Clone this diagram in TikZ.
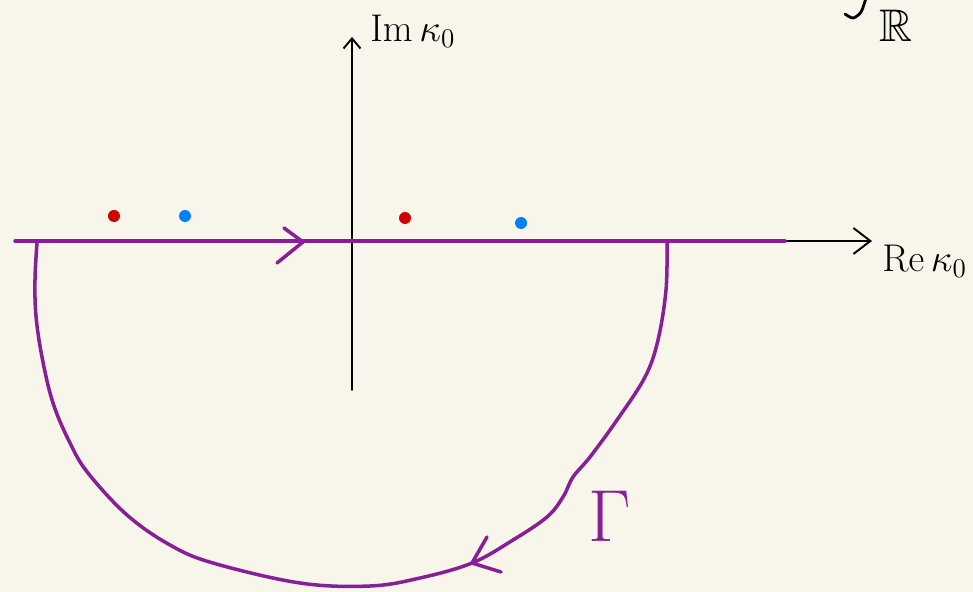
\RequirePackage{fix-cm}
\documentclass[tikz,border=0pt]{standalone}
\usepackage{amssymb}
\usetikzlibrary{arrows.meta}
\definecolor{paper}{RGB}{248,245,234}
\definecolor{contour}{RGB}{135,32,150}
\definecolor{polered}{RGB}{208,0,0}
\definecolor{poleblue}{RGB}{0,128,255}
\begin{document}
\begin{tikzpicture}[line cap=round, line join=round,
        axis/.style={black, line width=1.1pt},
        path line/.style={contour, line width=2pt},
        pole/.style={circle, inner sep=0pt, minimum size=2.4mm},
        axis label/.style={inner sep=0pt, anchor=base west, font=\fontsize{22}{22}\selectfont}]
        \path[use as bounding box, fill=paper] (-7.04,-7.02) rectangle (12.42,4.82);
        % axes
        \coordinate (re-start) at (-6.74,0);
        \coordinate (re-end) at (10.4,0);
        \coordinate (im-start) at (0,-2.98);
        \coordinate (im-end) at (0,4.08);
        \draw[axis, -{Straight Barb[length=3.4mm, width=5.2mm]}] (re-start) -- (re-end);
        \draw[axis, -{Straight Barb[length=2mm, width=3.4mm]}] (im-start) -- (im-end);
        \node[axis label] (im-label) at (0.36,3.98) {$\mathrm{Im}\,\kappa_0$};
        \node[axis label] (re-label) at (10.6,-0.62) {$\mathrm{Re}\,\kappa_0$};
        % integral over the reals
        \draw[line width=1.6pt] plot[smooth] coordinates {(9.86,4.54) (10.02,4.46) (10.18,4.58) (10.28,4.86)};
        \node[inner sep=0pt, font=\fontsize{26}{26}\selectfont] (reals) at (10.88,4.3) {$\mathbb{R}$};
        % poles
        \foreach \px/\py/\col [count=\index] in {-4.76/0.5/polered, -3.34/0.5/poleblue,
            1.06/0.46/polered, 3.38/0.36/poleblue}
            \node[pole, fill=\col] (pole-\index) at (\px,\py) {};
        % contour
        \coordinate (path-end) at (8.66,0);
        \draw[path line] (re-start) -- (path-end);
        \draw[path line] (-1.36,0.26) -- (-0.98,-0.02) -- (-1.5,-0.44);
        \draw[path line] plot[smooth, tension=0.6] coordinates {(6.3,-0.04) (6.28,-0.98)
            (6.12,-1.98) (5.86,-2.72) (5.3,-3.58) (4.76,-4.32) (4.42,-4.72) (4.22,-5.12)
            (3.9,-5.52) (3.22,-5.98) (2.4,-6.44) (1.36,-6.74) (0.36,-6.9) (-1.04,-6.84)
            (-2.78,-6.44) (-3.64,-6.08) (-4.5,-5.48) (-5.28,-4.64) (-5.64,-4.04)
            (-5.98,-3.24) (-6.2,-2.32) (-6.32,-1.5) (-6.34,-0.78) (-6.3,-0.04)};
        \draw[path line] (2.7,-5.92) -- (2.4,-6.44) -- (2.98,-6.62);
        \node[contour, inner sep=0pt, font=\fontsize{42}{42}\selectfont] (gamma-label) at (5.16,-5.5) {$\Gamma$};
    \end{tikzpicture}
\end{document}
